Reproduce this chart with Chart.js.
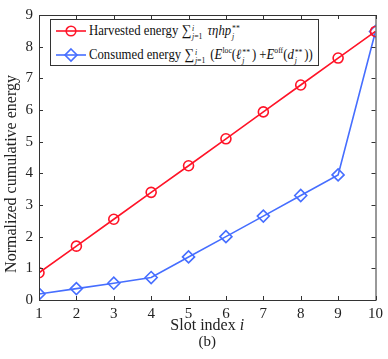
<!DOCTYPE html>
<html>
<head>
<meta charset="utf-8">
<script src="https://cdn.jsdelivr.net/npm/chart.js@4/dist/chart.umd.min.js"></script>
<style>
  html, body { margin: 0; padding: 0; background: #fff; }
  .wrap { position: relative; width: 388px; height: 359px; }
  #legend {
    position: absolute; left: 50px; top: 19px; width: 267px; height: 45px;
    border: 1px solid #333; background: #fff;
    font-family: "Liberation Serif", serif; font-size: 14px; color: #111;
  }
  #legend .row { position: absolute; left: 0; height: 20px; display: flex; align-items: center; white-space: nowrap; }
  #legend svg { margin-left: 5px; margin-right: 3px; flex: none; }
  #legend .txt { display: inline-block; transform: scaleX(0.91); transform-origin: left center; }
  #legend sup { font-size: 8.5px; line-height: 0; }
  #legend i { font-style: italic; }
  .ss { display: inline-flex; flex-direction: column; font-size: 8.5px; line-height: 8px; vertical-align: middle; margin: 0 2px 0 1px; }
  .sum { font-size: 15px; }
</style>
</head>
<body>
<div class="wrap">
  <canvas id="myGraph" width="388" height="359"></canvas>
  <div id="legend">
    <div class="row" style="top:1px">
      <svg width="30" height="14"><line x1="0" y1="7" x2="30" y2="7" stroke="rgb(255,20,40)" stroke-width="1.6"/><circle cx="15" cy="7" r="4.8" fill="none" stroke="rgb(255,20,40)" stroke-width="1.6"/></svg>
      <span class="txt">Harvested energy <span class="sum">&sum;</span><span class="ss"><i>i</i><span><i>j</i>=1</span></span> <i>&tau;&eta;hp</i><span class="ss"><span>**</span><i>j</i></span></span>
    </div>
    <div class="row" style="top:25px">
      <svg width="30" height="16"><line x1="0" y1="8" x2="30" y2="8" stroke="rgb(70,110,255)" stroke-width="1.6"/><polygon points="15,2 21,8 15,14 9,8" fill="none" stroke="rgb(70,110,255)" stroke-width="1.6"/></svg>
      <span class="txt">Consumed energy <span class="sum">&sum;</span><span class="ss"><i>i</i><span><i>j</i>=1</span></span> (<i>E</i><sup>loc</sup>(<i>&#8467;</i><span class="ss"><span>**</span><i>j</i></span>) +<i>E</i><sup>off</sup>(<i>d</i><span class="ss"><span>**</span><i>j</i></span>))</span>
    </div>
  </div>
</div>
<script>
const slots = [1, 2, 3, 4, 5, 6, 7, 8, 9, 10];
const harvested = [0.86, 1.7, 2.55, 3.4, 4.24, 5.09, 5.94, 6.79, 7.64, 8.48];
const consumed = [0.19, 0.36, 0.53, 0.71, 1.36, 2.0, 2.65, 3.3, 3.95, 8.48];
const seriesNames = ["Harvested energy", "Consumed energy"];

const RED = "rgb(255,20,40)";
const BLUE = "rgb(70,110,255)";
const FONT = "Liberation Serif";

// MATLAB style box with ticks pointing inward, plus the axis titles
const boxPlugin = {
  id: "box",
  afterDraw(chart) {
    const ctx = chart.ctx;
    const a = chart.chartArea;
    const xs = chart.scales.x, ys = chart.scales.y;
    ctx.save();
    ctx.strokeStyle = "#333";
    ctx.lineWidth = 1;
    ctx.strokeRect(a.left + 0.5, a.top + 0.5, a.right - a.left, a.bottom - a.top);
    ctx.beginPath();
    xs.ticks.forEach(t => {
      const px = Math.round(xs.getPixelForValue(t.value)) + 0.5;
      ctx.moveTo(px, a.bottom); ctx.lineTo(px, a.bottom - 4);
      ctx.moveTo(px, a.top); ctx.lineTo(px, a.top + 4);
    });
    ys.ticks.forEach(t => {
      const py = Math.round(ys.getPixelForValue(t.value)) + 0.5;
      ctx.moveTo(a.left, py); ctx.lineTo(a.left + 4, py);
      ctx.moveTo(a.right, py); ctx.lineTo(a.right - 4, py);
    });
    ctx.stroke();

    ctx.fillStyle = "#222";
    ctx.textBaseline = "middle";

    // y title
    ctx.save();
    ctx.translate(12, 174);
    ctx.rotate(-Math.PI / 2);
    ctx.textAlign = "center";
    ctx.font = "16px " + FONT;
    ctx.fillText("Normalized cumulative energy", 0, 0);
    ctx.restore();

    // x title "Slot index i" with italic i, and "(b)"
    const cx = (a.left + a.right) / 2;
    ctx.font = "16px " + FONT;
    const t1 = "Slot index ";
    const w1 = ctx.measureText(t1).width;
    ctx.font = "italic 16px " + FONT;
    const w2 = ctx.measureText("i").width;
    const x0 = cx - (w1 + w2) / 2;
    ctx.textAlign = "left";
    ctx.font = "16px " + FONT;
    ctx.fillText(t1, x0, 326);
    ctx.font = "italic 16px " + FONT;
    ctx.fillText("i", x0 + w1, 326);
    ctx.font = "15px " + FONT;
    ctx.textAlign = "center";
    ctx.fillText("(b)", cx, 342);
    ctx.restore();
  }
};

new Chart(document.getElementById("myGraph").getContext("2d"), {
  type: "line",
  data: {
    labels: slots,
    datasets: [{
      label: seriesNames[0],
      data: slots.map((s, i) => ({ x: s, y: harvested[i] })),
      borderColor: RED,
      backgroundColor: "rgba(0,0,0,0)",
      borderWidth: 1.6,
      pointStyle: "circle",
      pointRadius: 5,
      pointBorderWidth: 1.6,
      pointBorderColor: RED,
      pointBackgroundColor: "rgba(0,0,0,0)"
    }, {
      label: seriesNames[1],
      data: slots.map((s, i) => ({ x: s, y: consumed[i] })),
      borderColor: BLUE,
      backgroundColor: "rgba(0,0,0,0)",
      borderWidth: 1.6,
      pointStyle: "rectRot",
      pointRadius: 6,
      pointBorderWidth: 1.6,
      pointBorderColor: BLUE,
      pointBackgroundColor: "rgba(0,0,0,0)"
    }]
  },
  options: {
    responsive: false,
    animation: false,
    layout: { padding: { left: 0, right: 11, top: 9, bottom: 0 } },
    plugins: {
      legend: { display: false },
      tooltip: { enabled: false }
    },
    scales: {
      x: {
        type: "linear",
        min: 1, max: 10,
        grid: { display: false, drawTicks: false },
        border: { display: false },
        ticks: { stepSize: 1, color: "#222", padding: 5, font: { family: FONT, size: 15 } },
        afterFit(scale) { scale.height = 59; }
      },
      y: {
        min: 0, max: 9,
        grid: { display: false, drawTicks: false },
        border: { display: false },
        ticks: { stepSize: 1, color: "#222", padding: 6, font: { family: FONT, size: 15 } },
        afterFit(scale) { scale.width = 39; }
      }
    }
  },
  plugins: [boxPlugin]
});
</script>
</body>
</html>
